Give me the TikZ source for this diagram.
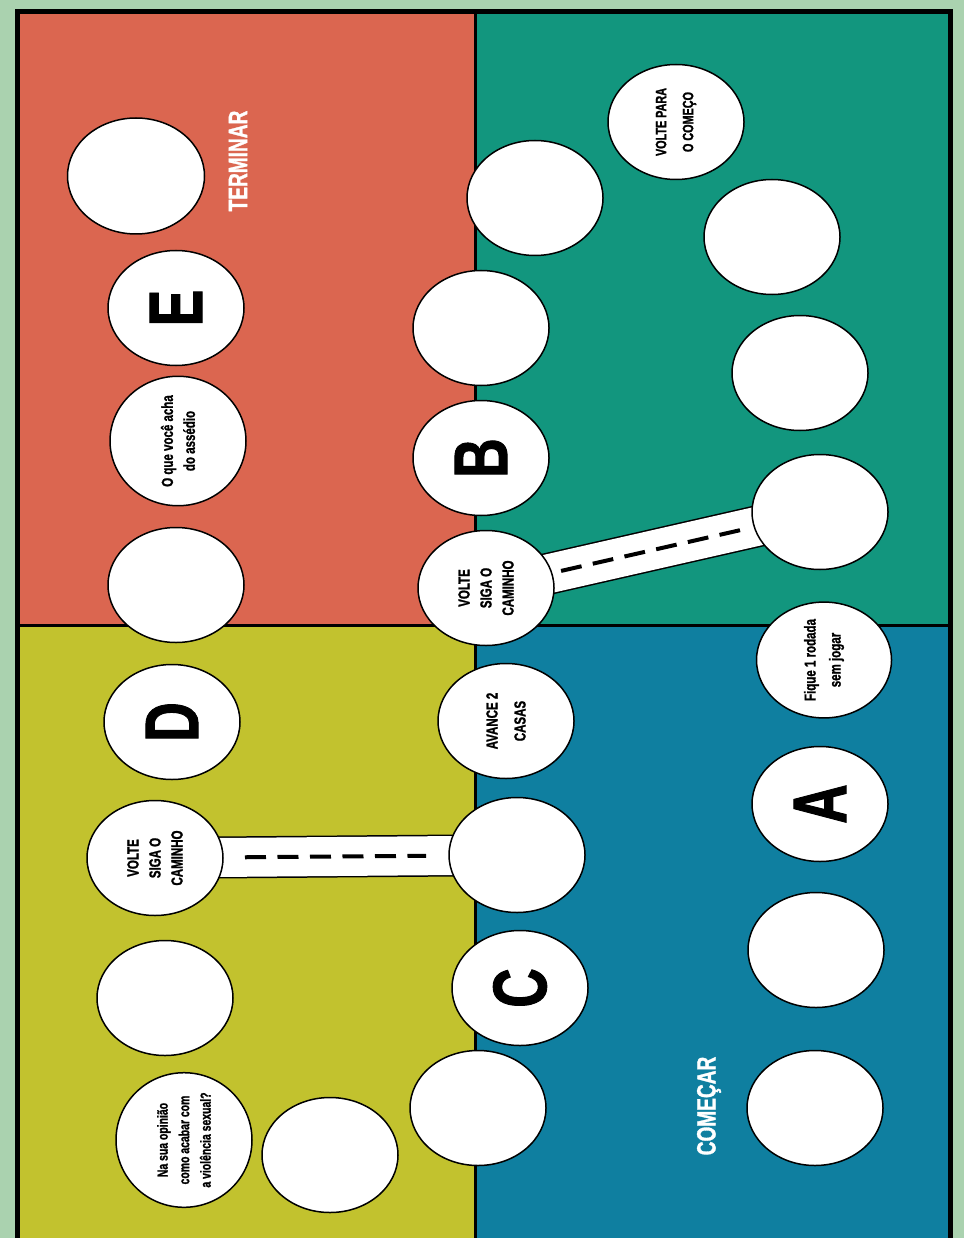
\documentclass[tikz,border=0pt]{standalone}
\usepackage{fontspec}
\usepackage{graphicx}
\usetikzlibrary{shapes.geometric}
\newfontfamily\gamefont[FakeStretch=0.72,FakeBold=1.2]{Liberation Sans Bold}
\definecolor{bggreen}{RGB}{170,210,175}
\definecolor{qred}{RGB}{219,102,80}
\definecolor{qteal}{RGB}{18,150,126}
\definecolor{qolive}{RGB}{194,194,46}
\definecolor{qblue}{RGB}{15,127,160}
\tikzset{
  cell/.style={ellipse, draw=black, fill=white, line width=1.5pt, inner sep=0pt,
    rotate=90, minimum width=115pt, minimum height=136pt, align=center,
    font=\gamefont\fontsize{16}{22}\selectfont},
  bigletter/.style={font=\gamefont\fontsize{76}{76}\selectfont},
  label text/.style={text=white, rotate=90, inner sep=0pt, font=\gamefont\fontsize{26.5}{30}\selectfont},
  roadout/.style={line width=42pt, draw=black},
  roadin/.style={line width=39pt, draw=white},
  roaddash/.style={line width=4pt, draw=black, dash pattern=on 21pt off 11.5pt},
}
\begin{document}
\begin{tikzpicture}[x=1pt,y=-1pt]
\useasboundingbox (0,0) rectangle (964,1238);
\fill[bggreen] (0,0) rectangle (964,1238);
% quadrants
\fill[qred] (17,12) rectangle (475,625);
\fill[qteal] (475,12) rectangle (950,625);
\fill[qolive] (17,625) rectangle (475,1238);
\fill[qblue] (475,625) rectangle (950,1238);
\draw[line width=3pt] (475,12) -- (475,1238);
\draw[line width=3pt] (17,625) -- (950,625);
\draw[line width=5pt] (17,1240) -- (17,12) -- (950,12) -- (950,1240);

% red quadrant
\node[cell, minimum height=137pt, minimum width=116pt] (r1) at (136,176) {};
\node[cell, bigletter] (rE) at (176,308) {E};
\node[cell, minimum width=112pt] (rQ) at (178,441) {O que você acha\\do assédio};
\node[cell] (r4) at (176,585) {};
\node[label text] (term) at (238,161) {TERMINAR};

% teal quadrant
\coordinate (tSc) at (486,588);
\coordinate (tEc) at (820,512);
\draw[roadout] (tSc) -- (tEc);
\draw[roadin] (tSc) -- (tEc);
\draw[roaddash, shorten <=77pt, shorten >=75pt] (tSc) -- (tEc);
\node[cell, font=\gamefont\fontsize{15}{27}\selectfont] (tV) at (676,122) {VOLTE PARA\\O COMEÇO};
\node[cell] (t2) at (535,198) {};
\node[cell] (t3) at (772,237) {};
\node[cell] (t4) at (481,328) {};
\node[cell] (t5) at (800,373) {};
\node[cell, bigletter] (tB) at (481,458) {B};
\node[cell] (tS) at (tSc) {VOLTE\\SIGA O\\CAMINHO};
\node[cell] (tE) at (tEc) {};

% blue quadrant
\coordinate (bRc) at (517,855);
\node[cell, minimum width=111pt, minimum height=135pt, font=\gamefont\fontsize{16}{25}\selectfont] (bF) at (824,660) {Fique 1 rodada\\sem jogar};
\node[cell, font=\gamefont\fontsize{16}{28}\selectfont] (bAv) at (506,721) {AVANCE 2\\CASAS};
\node[cell, bigletter] (bA) at (820,804) {A};
\node[cell] (b2) at (816,950) {};
\node[cell, bigletter] (bC) at (520,988) {C};
\node[cell] (b3) at (815,1108) {};
\node[label text] (comec) at (709,1106) {COMEÇAR};

% olive quadrant
\coordinate (oVc) at (155,858);
\draw[roadout] (oVc) -- (bRc);
\draw[roadin] (oVc) -- (bRc);
\draw[roaddash, shorten <=90pt, shorten >=91pt] (oVc) -- (bRc);
\node[cell] (bR) at (bRc) {};
\node[cell, bigletter] (oD) at (172,722) {D};
\node[cell] (oV) at (oVc) {VOLTE\\SIGA O\\CAMINHO};
\node[cell] (o2) at (165,998) {};
\node[cell, minimum width=110pt, font=\gamefont\fontsize{14.5}{21.5}\selectfont] (oN) at (184,1140) {Na sua opinião\\como acabar com\\a violência sexual?};
\node[cell] (o3) at (330,1155) {};
\node[cell] (o4) at (478,1108) {};
\end{tikzpicture}
\end{document}
